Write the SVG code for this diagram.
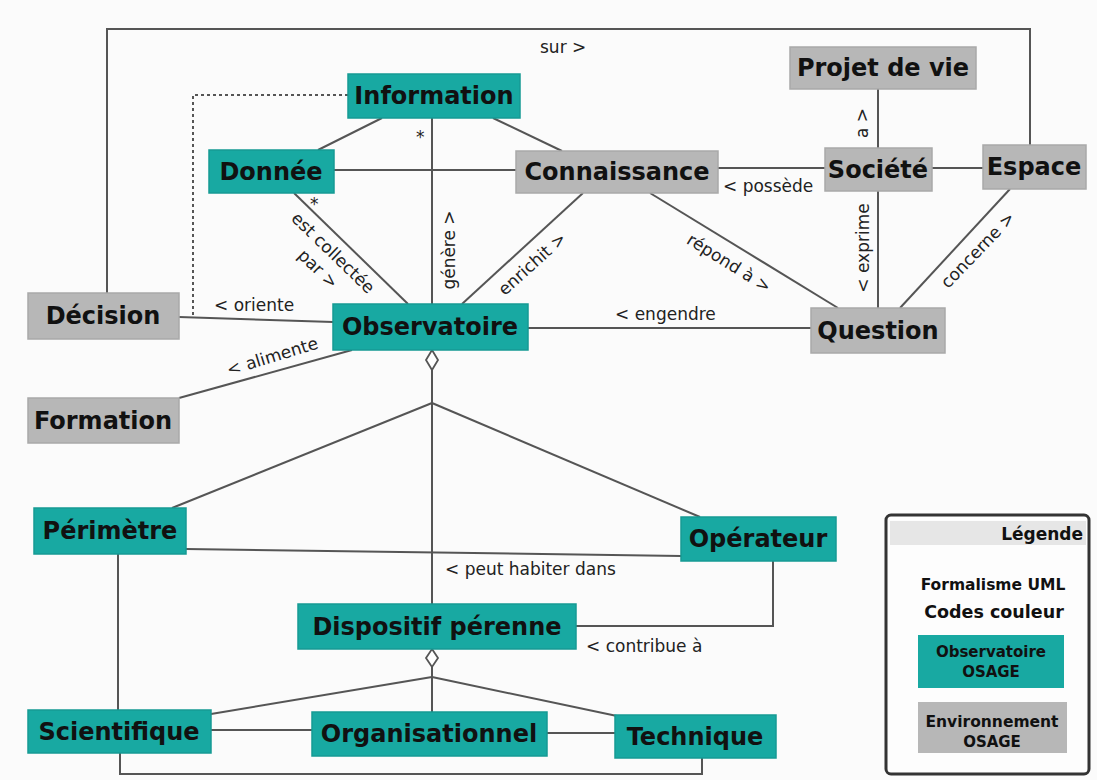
<svg xmlns="http://www.w3.org/2000/svg" width="1097" height="780" viewBox="0 0 1097 780">
<style>
.bg{fill:#fbfbfb}
.teal{fill:#18a9a2;stroke:#169a94;stroke-width:1.5}
.gray{fill:#b7b7b7;stroke:#a9a9a9;stroke-width:1.5}
.nt{font-family:"DejaVu Sans",sans-serif;font-weight:bold;font-size:24px;fill:#111;text-anchor:middle}
.lbl{font-family:"DejaVu Sans",sans-serif;font-size:17px;fill:#222}
.mid{text-anchor:middle}
.conn line,.conn polyline,.conn path{stroke:#555;stroke-width:2;fill:none}
.conn .dash{stroke-dasharray:3 3}
.conn .dia{fill:#fff;stroke:#555;stroke-width:1.8}
.lg{font-family:"DejaVu Sans",sans-serif;font-weight:bold;fill:#111;text-anchor:middle}
</style>
<rect class="bg" x="0" y="0" width="1097" height="780"/>

<g id="connectors" class="conn">
  <polyline points="107,293 107,29 1030,29 1030,145"/>
  <polyline class="dash" points="348,95 193,95 193,318"/>
  <line x1="382" y1="118" x2="318" y2="150"/>
  <line x1="493" y1="118" x2="562" y2="151"/>
  <line x1="432" y1="118" x2="432" y2="304"/>
  <line x1="334" y1="170" x2="516" y2="170"/>
  <line x1="294" y1="193" x2="408" y2="304"/>
  <line x1="583" y1="193" x2="462" y2="304"/>
  <line x1="650" y1="193" x2="838" y2="308"/>
  <line x1="718" y1="168" x2="825" y2="168"/>
  <line x1="932" y1="168" x2="983" y2="168"/>
  <line x1="878" y1="89" x2="878" y2="148"/>
  <line x1="878" y1="191" x2="878" y2="308"/>
  <line x1="1010" y1="189" x2="900" y2="308"/>
  <line x1="179" y1="317" x2="333" y2="322"/>
  <line x1="528" y1="328" x2="811" y2="328"/>
  <line x1="179" y1="398" x2="352" y2="350"/>
  <line x1="432" y1="370" x2="432" y2="604"/>
  <path class="dia" d="M432,350 L438,360 L432,370 L426,360 Z"/>
  <line x1="432" y1="403" x2="172" y2="508"/>
  <line x1="432" y1="403" x2="700" y2="517"/>
  <line x1="186" y1="549" x2="681" y2="556"/>
  <polyline points="773,561 773,626 576,626"/>
  <line x1="118" y1="554" x2="118" y2="710"/>
  <polyline points="120,753 120,774 702,774 702,758"/>
  <line x1="432" y1="667" x2="432" y2="712"/>
  <path class="dia" d="M432,649 L438,658 L432,667 L426,658 Z"/>
  <line x1="432" y1="677" x2="211" y2="714"/>
  <line x1="432" y1="677" x2="617" y2="716"/>
  <line x1="211" y1="730" x2="312" y2="730"/>
  <line x1="547" y1="733" x2="615" y2="733"/>

  <text class="lbl" x="540" y="53">sur &gt;</text>
  <text class="lbl" x="416" y="143" font-size="16">*</text>
  <text class="lbl" x="310" y="210" font-size="16">*</text>
  <text class="lbl mid" transform="translate(329,257) rotate(44)">est collectée</text>
  <text class="lbl mid" transform="translate(314,273) rotate(44)">par &gt;</text>
  <text class="lbl mid" transform="translate(455,250) rotate(-90)">génère &gt;</text>
  <text class="lbl mid" transform="translate(536,268) rotate(-42)">enrichit &gt;</text>
  <text class="lbl mid" transform="translate(726,268) rotate(32)">répond à &gt;</text>
  <text class="lbl" x="723" y="192">&lt; possède</text>
  <text class="lbl mid" transform="translate(868,123) rotate(-90)">a &gt;</text>
  <text class="lbl mid" transform="translate(869,248) rotate(-90)">&lt; exprime</text>
  <text class="lbl mid" transform="translate(982,254) rotate(-46)">concerne &gt;</text>
  <text class="lbl" x="214" y="311">&lt; oriente</text>
  <text class="lbl" x="615" y="320">&lt; engendre</text>
  <text class="lbl mid" transform="translate(274,362) rotate(-17)">&lt; alimente</text>
  <text class="lbl" x="445" y="575">&lt; peut habiter dans</text>
  <text class="lbl" x="586" y="652">&lt; contribue à</text>
</g>

<g id="n-information"><rect class="teal" x="348" y="74" width="172" height="44"/><text class="nt" x="434" y="104">Information</text></g>
<g id="n-donnee"><rect class="teal" x="209" y="150" width="125" height="43"/><text class="nt" x="271" y="180">Donnée</text></g>
<g id="n-connaissance"><rect class="gray" x="516" y="151" width="202" height="42"/><text class="nt" x="617" y="180">Connaissance</text></g>
<g id="n-projet"><rect class="gray" x="790" y="47" width="186" height="42"/><text class="nt" x="883" y="76">Projet de vie</text></g>
<g id="n-societe"><rect class="gray" x="825" y="148" width="107" height="43"/><text class="nt" x="878" y="178">Société</text></g>
<g id="n-espace"><rect class="gray" x="983" y="145" width="103" height="44"/><text class="nt" x="1034" y="175">Espace</text></g>
<g id="n-decision"><rect class="gray" x="28" y="293" width="151" height="46"/><text class="nt" x="103" y="324">Décision</text></g>
<g id="n-observatoire"><rect class="teal" x="333" y="304" width="195" height="46"/><text class="nt" x="430" y="335">Observatoire</text></g>
<g id="n-question"><rect class="gray" x="811" y="308" width="134" height="45"/><text class="nt" x="878" y="339">Question</text></g>
<g id="n-formation"><rect class="gray" x="28" y="398" width="151" height="45"/><text class="nt" x="103" y="429">Formation</text></g>
<g id="n-perimetre"><rect class="teal" x="34" y="508" width="152" height="46"/><text class="nt" x="110" y="539">Périmètre</text></g>
<g id="n-operateur"><rect class="teal" x="681" y="517" width="155" height="44"/><text class="nt" x="758" y="547">Opérateur</text></g>
<g id="n-dispositif"><rect class="teal" x="298" y="604" width="278" height="45"/><text class="nt" x="437" y="635">Dispositif pérenne</text></g>
<g id="n-scientifique"><rect class="teal" x="28" y="710" width="183" height="43"/><text class="nt" x="119" y="740">Scientifique</text></g>
<g id="n-organisationnel"><rect class="teal" x="312" y="712" width="235" height="44"/><text class="nt" x="429" y="742">Organisationnel</text></g>
<g id="n-technique"><rect class="teal" x="615" y="715" width="161" height="43"/><text class="nt" x="695" y="745">Technique</text></g>

<g id="legend">
  <rect x="886" y="515" width="203" height="259" rx="5" fill="#fdfdfd" stroke="#333" stroke-width="3"/>
  <rect x="890" y="521" width="196" height="24" fill="#e6e6e6"/>
  <text class="lg" x="1083" y="540" font-size="17" style="text-anchor:end">Légende</text>
  <text class="lg" x="993" y="590" font-size="15.5">Formalisme UML</text>
  <text class="lg" x="994" y="618" font-size="17.5">Codes couleur</text>
  <rect x="918" y="635" width="146" height="53" fill="#18a9a2"/>
  <text class="lg" x="991" y="657" font-size="15">Observatoire</text>
  <text class="lg" x="991" y="677" font-size="15">OSAGE</text>
  <rect x="918" y="702" width="149" height="51" fill="#b7b7b7"/>
  <text class="lg" x="992" y="727" font-size="15.5">Environnement</text>
  <text class="lg" x="992" y="747" font-size="15">OSAGE</text>
</g>
</svg>
